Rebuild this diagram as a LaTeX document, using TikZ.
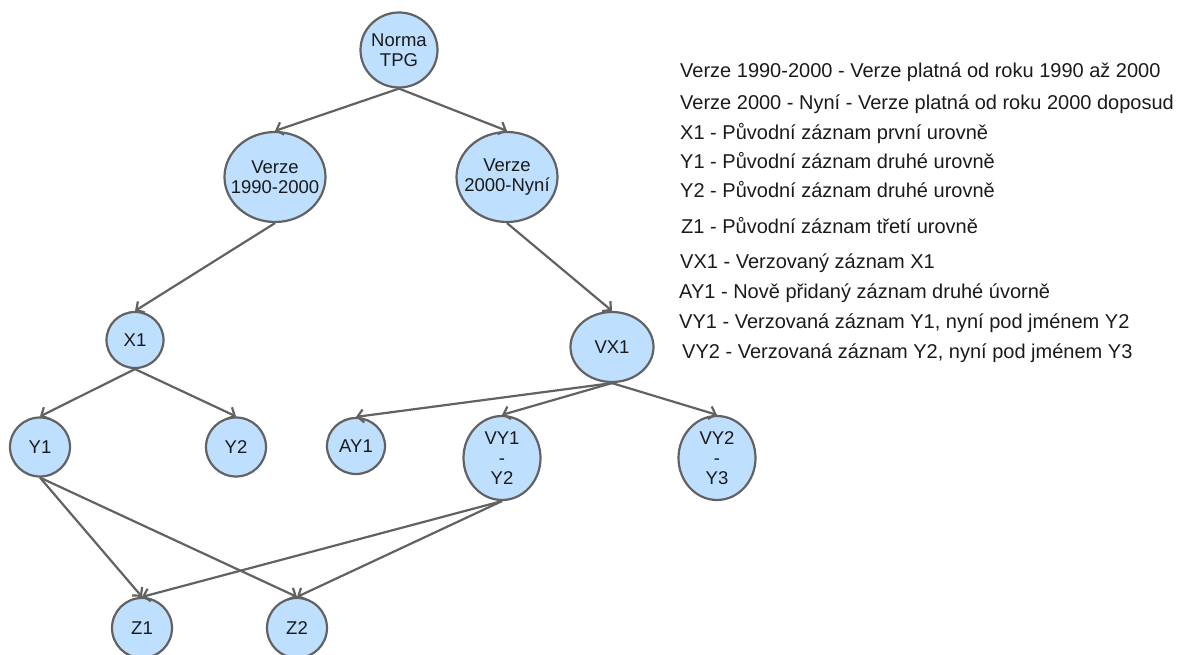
\documentclass[tikz,border=0pt]{standalone}
\usepackage{fontspec}
\setmainfont{Liberation Sans}
\usetikzlibrary{shapes.geometric,arrows.meta}
\definecolor{nodefill}{HTML}{BFDFFF}
\definecolor{linegray}{HTML}{626262}
\definecolor{txt}{HTML}{1A1A1A}
\begin{document}
\begin{tikzpicture}[x=1pt,y=-1pt,
  tnode/.style={ellipse,draw=linegray,line width=2.2pt,fill=nodefill,inner sep=0pt},
  tlabel/.style={inner sep=0pt,text=txt,align=center,font=\fontsize{18.5}{20}\selectfont},
  link/.style={draw=linegray,line width=2.2pt,-{Straight Barb[length=6pt,width=13pt]}},
  legend/.style={anchor=base west,inner sep=0pt,text=txt,font=\fontsize{20}{22}\selectfont}]
\useasboundingbox (0,0) rectangle (1179,655);
\clip (0,0) rectangle (1179,655);

% tree nodes: fixed-size ellipses, the text sits centred on top as a label
\node[tnode,minimum width=77pt,minimum height=75pt,label={[tlabel]center:Norma\\TPG}] (tpg) at (399,50) {};
\node[tnode,minimum width=101pt,minimum height=90pt,label={[tlabel]center:Verze\\1990-2000}] (v90) at (275,177) {};
\node[tnode,minimum width=101pt,minimum height=90pt,label={[tlabel]center:Verze\\2000-Nyní}] (v00) at (507,177) {};
\node[tnode,minimum width=57pt,minimum height=56pt,label={[tlabel]center:X1}] (x1) at (135,340) {};
\node[tnode,minimum width=83pt,minimum height=70pt,label={[tlabel]center:VX1}] (vx1) at (612,347) {};
\node[tnode,minimum width=60pt,minimum height=59pt,label={[tlabel]center:Y1}] (y1) at (40,447) {};
\node[tnode,minimum width=60pt,minimum height=59pt,label={[tlabel]center:Y2}] (y2) at (236,447) {};
\node[tnode,minimum width=58pt,minimum height=56pt,label={[tlabel]center:AY1}] (ay1) at (356,446) {};
\node[tnode,minimum width=77pt,minimum height=84pt,label={[tlabel]center:VY1\\-\\Y2}] (vy1) at (502,458) {};
\node[tnode,minimum width=77pt,minimum height=84pt,label={[tlabel]center:VY2\\-\\Y3}] (vy2) at (717,458) {};
\node[tnode,minimum width=60pt,minimum height=60pt,label={[tlabel]center:Z1}] (z1) at (142,628) {};
\node[tnode,minimum width=60pt,minimum height=60pt,label={[tlabel]center:Z2}] (z2) at (297,628) {};

% connectors
\draw[link] (tpg.south) -- (v90.north);
\draw[link] (tpg.south) -- (v00.north);
\draw[link] (v90.south) -- (x1.north);
\draw[link] (v00.south) -- (vx1.north);
\draw[link] (x1.south) -- (y1.north);
\draw[link] (x1.south) -- (y2.north);
\draw[link] (vx1.south) -- (ay1.north);
\draw[link] (vx1.south) -- (vy1.north);
\draw[link] (vx1.south) -- (vy2.north);
\draw[link] (y1.south) -- (z1.north);
\draw[link] (y1.south) -- (z2.north);
\draw[link] (vy1.south) -- (z1.north);
\draw[link] (vy1.south) -- (z2.north);

% legend
\node[legend] (l1) at (680,78) {Verze 1990-2000 - Verze platná od roku 1990 až 2000};
\node[legend] (l2) at (680,110) {Verze 2000 - Nyní - Verze platná od roku 2000 doposud};
\node[legend] (l3) at (680,140) {X1 - Původní záznam první urovně};
\node[legend] (l4) at (680,169) {Y1 - Původní záznam druhé urovně};
\node[legend] (l5) at (680,198) {Y2 - Původní záznam druhé urovně};
\node[legend] (l6) at (681,234) {Z1 - Původní záznam třetí urovně};
\node[legend] (l7) at (680,269) {VX1 - Verzovaný záznam X1};
\node[legend] (l8) at (679,299) {AY1 - Nově přidaný záznam druhé úvorně};
\node[legend] (l9) at (679,329) {VY1 - Verzovaná záznam Y1, nyní pod jménem Y2};
\node[legend] (l10) at (682,359) {VY2 - Verzovaná záznam Y2, nyní pod jménem Y3};
\end{tikzpicture}
\end{document}
